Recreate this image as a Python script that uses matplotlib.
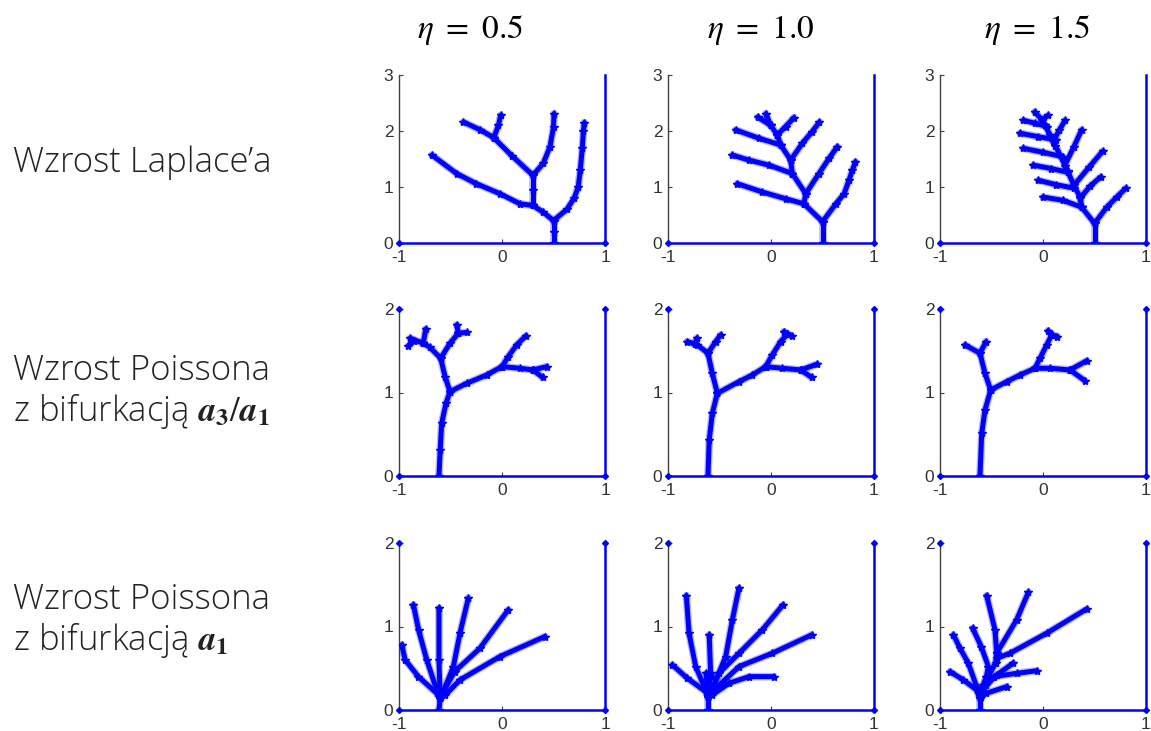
import matplotlib
matplotlib.use("Agg")
import matplotlib.pyplot as plt

plt.rcParams['mathtext.fontset'] = 'stix'

# ---- data -------------------------------------------------------------
eta_labels = ["0.5", "1.0", "1.5"]
row_labels = [
    "Wzrost Laplace\u2019a",
    "Wzrost Poissona\nz bifurkacją $\\mathbfit{a}_\\mathbf{3}/\\mathbfit{a}_\\mathbf{1}$",
    "Wzrost Poissona\nz bifurkacją $\\mathbfit{a}_\\mathbf{1}$",
]
row_ymax = [3, 2, 2]
x_ticks = [-1, 0, 1]

# Laplacian growth, eta = 0.5
laplace_05 = [
    [(0.5, 0.0), (0.5, 0.2), (0.5, 0.4)],
    [(0.5, 0.4), (0.63, 0.6), (0.70, 0.8), (0.74, 1.0), (0.76, 1.3), (0.78, 1.7), (0.79, 2.0), (0.80, 2.15)],
    [(0.5, 0.4), (0.40, 0.55), (0.30, 0.67)],
    [(0.30, 0.67), (0.175, 0.70), (-0.02, 0.88), (-0.25, 1.06), (-0.44, 1.24), (-0.68, 1.57)],
    [(0.30, 0.67), (0.30, 0.95), (0.30, 1.21)],
    [(0.30, 1.21), (0.40, 1.42), (0.466, 1.72), (0.50, 2.07), (0.505, 2.31)],
    [(0.30, 1.21), (0.10, 1.55), (-0.08, 1.88)],
    [(-0.08, 1.88), (-0.035, 2.10), (-0.013, 2.28)],
    [(-0.08, 1.88), (-0.21, 2.02), (-0.375, 2.16)],
]

# Laplacian growth, eta = 1.0
laplace_10 = [
    [(0.5, 0.0), (0.5, 0.38)],
    [(0.5, 0.38), (0.63, 0.70), (0.71, 0.88), (0.757, 1.12), (0.79, 1.30), (0.82, 1.45)],
    [(0.5, 0.38), (0.32, 0.70)],
    [(0.32, 0.70), (0.142, 0.79), (-0.084, 0.91), (-0.327, 1.06)],
    [(0.32, 0.70), (0.337, 0.88)],
    [(0.337, 0.88), (0.466, 1.24), (0.563, 1.51), (0.644, 1.72)],
    [(0.337, 0.88), (0.207, 1.24)],
    [(0.207, 1.24), (-0.019, 1.39), (-0.214, 1.48), (-0.375, 1.57)],
    [(0.207, 1.24), (0.191, 1.48)],
    [(0.191, 1.48), (0.304, 1.78), (0.40, 1.99), (0.47, 2.16)],
    [(0.191, 1.48), (0.094, 1.75)],
    [(0.094, 1.75), (-0.116, 1.87), (-0.343, 2.02)],
    [(0.094, 1.75), (0.061, 1.93)],
    [(0.061, 1.93), (0.142, 2.08), (0.223, 2.24)],
    [(0.061, 1.93), (-0.003, 2.10)],
    [(-0.003, 2.10), (-0.13, 2.25)],
    [(-0.003, 2.10), (-0.05, 2.31)],
]

# Laplacian growth, eta = 1.5
laplace_15 = [
    [(0.5, 0.0), (0.5, 0.35)],
    [(0.5, 0.35), (0.62, 0.64), (0.715, 0.82), (0.806, 0.98)],
    [(0.5, 0.35), (0.375, 0.64)],
    [(0.375, 0.64), (0.197, 0.76), (0.0, 0.82)],
    [(0.375, 0.64), (0.36, 0.82), (0.30, 1.03), (0.24, 1.28), (0.18, 1.52), (0.12, 1.74),
     (0.07, 1.92), (0.02, 2.10), (-0.01, 2.20)],
    [(0.36, 0.80), (0.46, 1.02), (0.56, 1.18)],
    [(0.30, 1.03), (0.45, 1.36), (0.58, 1.64)],
    [(0.21, 1.38), (0.30, 1.72), (0.375, 2.02)],
    [(0.10, 1.82), (0.16, 2.02), (0.214, 2.19)],
    [(0.30, 0.98), (0.13, 1.04), (-0.045, 1.12)],
    [(0.245, 1.26), (0.08, 1.33), (-0.094, 1.39)],
    [(0.19, 1.54), (0.0, 1.62), (-0.19, 1.69)],
    [(0.13, 1.84), (-0.05, 1.90), (-0.223, 1.96)],
    [(0.04, 2.08), (-0.08, 2.14), (-0.19, 2.19)],
    [(-0.01, 2.20), (-0.08, 2.34)],
    [(-0.01, 2.20), (0.05, 2.28)],
]

# Poisson growth with a3/a1 bifurcation, eta = 0.5
poisson31_05 = [
    [(-0.612, 0.0), (-0.60, 0.31), (-0.586, 0.63), (-0.544, 0.87), (-0.505, 1.01)],
    [(-0.505, 1.01), (-0.343, 1.11), (-0.149, 1.21), (0.0, 1.31)],
    [(0.0, 1.31), (0.061, 1.43), (0.142, 1.57), (0.233, 1.68)],
    [(0.0, 1.31), (0.175, 1.29), (0.30, 1.27)],
    [(0.30, 1.27), (0.434, 1.31)],
    [(0.30, 1.27), (0.395, 1.18)],
    [(-0.505, 1.01), (-0.553, 1.19), (-0.595, 1.41)],
    [(-0.595, 1.41), (-0.505, 1.59), (-0.424, 1.71)],
    [(-0.424, 1.71), (-0.44, 1.81)],
    [(-0.424, 1.71), (-0.343, 1.72)],
    [(-0.595, 1.41), (-0.70, 1.54), (-0.764, 1.59)],
    [(-0.764, 1.59), (-0.893, 1.65)],
    [(-0.764, 1.59), (-0.741, 1.76)],
    [(-0.85, 1.62), (-0.909, 1.56)],
]

# Poisson growth with a3/a1 bifurcation, eta = 1.0
poisson31_10 = [
    [(-0.612, 0.0), (-0.60, 0.43), (-0.57, 0.75), (-0.521, 0.99)],
    [(-0.521, 0.99), (-0.311, 1.13), (-0.181, 1.21), (-0.052, 1.31)],
    [(-0.052, 1.31), (0.013, 1.45), (0.094, 1.61), (0.159, 1.70)],
    [(0.159, 1.70), (0.126, 1.73)],
    [(0.159, 1.70), (0.20, 1.68)],
    [(-0.052, 1.31), (0.11, 1.29), (0.288, 1.27)],
    [(0.288, 1.27), (0.45, 1.34)],
    [(0.288, 1.27), (0.395, 1.18)],
    [(-0.521, 0.99), (-0.57, 1.23), (-0.612, 1.47)],
    [(-0.612, 1.47), (-0.537, 1.61), (-0.489, 1.69)],
    [(-0.612, 1.47), (-0.715, 1.57), (-0.812, 1.61)],
    [(-0.74, 1.58), (-0.72, 1.65)],
]

# Poisson growth with a3/a1 bifurcation, eta = 1.5
poisson31_15 = [
    [(-0.612, 0.0), (-0.595, 0.51), (-0.563, 0.79), (-0.508, 1.03)],
    [(-0.508, 1.03), (-0.353, 1.13), (-0.223, 1.21), (-0.078, 1.29)],
    [(-0.078, 1.29), (-0.029, 1.41), (0.036, 1.57), (0.084, 1.69)],
    [(0.084, 1.69), (0.05, 1.74)],
    [(0.084, 1.69), (0.14, 1.67)],
    [(-0.078, 1.29), (0.068, 1.29), (0.262, 1.27)],
    [(0.262, 1.27), (0.424, 1.38)],
    [(0.262, 1.27), (0.408, 1.14)],
    [(-0.508, 1.03), (-0.563, 1.23), (-0.612, 1.47)],
    [(-0.612, 1.47), (-0.553, 1.61)],
    [(-0.612, 1.47), (-0.757, 1.57)],
]

# Poisson growth with a1 bifurcation, eta = 0.5
poisson1_05 = [
    [(-0.612, 0.0), (-0.60, 0.14)],
    [(-0.60, 0.14), (-0.634, 0.20), (-0.812, 0.40), (-0.94, 0.60), (-0.974, 0.78)],
    [(-0.60, 0.14), (-0.634, 0.24), (-0.731, 0.60), (-0.81, 0.96), (-0.86, 1.26)],
    [(-0.60, 0.14), (-0.612, 0.60), (-0.612, 1.22)],
    [(-0.60, 0.14), (-0.57, 0.22), (-0.472, 0.52), (-0.408, 0.92), (-0.327, 1.34)],
    [(-0.57, 0.22), (-0.46, 0.46), (-0.214, 0.74), (0.061, 1.20)],
    [(-0.60, 0.14), (-0.55, 0.18), (-0.408, 0.36), (-0.02, 0.64), (0.417, 0.88)],
]

# Poisson growth with a1 bifurcation, eta = 1.0
poisson1_10 = [
    [(-0.612, 0.0), (-0.612, 0.16)],
    [(-0.612, 0.16), (-0.634, 0.22), (-0.812, 0.38), (-0.958, 0.54)],
    [(-0.612, 0.16), (-0.634, 0.24), (-0.731, 0.52), (-0.796, 0.92), (-0.822, 1.37)],
    [(-0.612, 0.16), (-0.60, 0.30), (-0.586, 0.44), (-0.60, 0.90)],
    [(-0.62, 0.30), (-0.63, 0.44), (-0.57, 0.40)],
    [(-0.612, 0.16), (-0.56, 0.28), (-0.44, 0.64), (-0.375, 1.08), (-0.311, 1.46)],
    [(-0.58, 0.22), (-0.505, 0.44), (-0.31, 0.68), (-0.084, 0.96), (0.117, 1.26)],
    [(-0.58, 0.20), (-0.553, 0.24), (-0.31, 0.52), (0.013, 0.68), (0.395, 0.90)],
    [(-0.57, 0.18), (-0.408, 0.32), (-0.214, 0.40), (0.029, 0.40)],
]

# Poisson growth with a1 bifurcation, eta = 1.5
poisson1_15 = [
    [(-0.612, 0.0), (-0.612, 0.14)],
    [(-0.612, 0.14), (-0.644, 0.24), (-0.773, 0.36), (-0.903, 0.46)],
    [(-0.612, 0.14), (-0.644, 0.28), (-0.725, 0.56), (-0.806, 0.74), (-0.87, 0.90)],
    [(-0.60, 0.22), (-0.55, 0.40), (-0.53, 0.52), (-0.60, 0.76), (-0.683, 0.98)],
    [(-0.58, 0.30), (-0.46, 0.56), (-0.45, 0.68)],
    [(-0.45, 0.68), (-0.466, 0.96), (-0.547, 1.37)],
    [(-0.45, 0.68), (-0.256, 1.08), (-0.142, 1.41)],
    [(-0.45, 0.62), (-0.32, 0.68), (0.036, 0.92), (0.424, 1.21)],
    [(-0.58, 0.26), (-0.45, 0.42), (-0.29, 0.56)],
    [(-0.55, 0.30), (-0.48, 0.40), (-0.25, 0.44), (-0.061, 0.47)],
    [(-0.60, 0.16), (-0.55, 0.20), (-0.353, 0.28)],
]

panels = [
    [laplace_05, laplace_10, laplace_15],
    [poisson31_05, poisson31_10, poisson31_15],
    [poisson1_05, poisson1_10, poisson1_15],
]

# ---- layout (pixels of a 1151 x 731 canvas) ----------------------------
W, H = 1151, 731
col_left = [399, 668, 940]
col_width = 206
row_top = [75, 309, 543]
row_bottom = [243, 476, 710]
title_x = [470, 761, 1037]
title_y = 30
label_x = 13
label_y = [163, 392, 621]

BLUE = '#0000ff'
AXIS_GRAY = '#404040'

fig = plt.figure(figsize=(W / 100, H / 100), dpi=100)

for r in range(3):
    ymax = row_ymax[r]
    for c in range(3):
        ax = fig.add_axes([col_left[c] / W, 1 - row_bottom[r] / H,
                           col_width / W, (row_bottom[r] - row_top[r]) / H])
        ax.set_xlim(-1, 1)
        ax.set_ylim(0, ymax)
        for side in ('top', 'right', 'bottom'):
            ax.spines[side].set_visible(False)
        ax.spines['left'].set_color(AXIS_GRAY)
        ax.spines['left'].set_linewidth(1.0)
        ax.set_xticks(x_ticks)
        ax.set_xticklabels([str(t) for t in x_ticks])
        ax.set_yticks(list(range(ymax + 1)))
        ax.tick_params(direction='in', length=3, width=0.8, color=AXIS_GRAY,
                       labelsize=12.5, labelcolor='#333333')
        ax.tick_params(axis='x', pad=5)
        ax.tick_params(axis='y', pad=4)
        for lbl in ax.get_xticklabels() + ax.get_yticklabels():
            lbl.set_fontfamily('Liberation Sans')

        # domain boundary
        ax.plot([-1, 1, 1], [0, 0, ymax], color=BLUE, lw=1.8,
                clip_on=False, zorder=4)
        corners_x = [-1, 1] if r == 0 else [-1, 1, 1, -1]
        corners_y = [0, 0] if r == 0 else [0, 0, ymax, ymax]
        ax.plot(corners_x, corners_y, linestyle='none', marker='D', ms=3,
                color=BLUE, clip_on=False, zorder=5)

        # growth paths
        for branch in panels[r][c]:
            xs = [p[0] for p in branch]
            ys = [p[1] for p in branch]
            ax.plot(xs, ys, color='#6060ff', lw=5.5, alpha=0.45,
                    solid_capstyle='round', solid_joinstyle='round', zorder=2)
            ax.plot(xs, ys, color=BLUE, lw=3.6, marker='*', ms=6,
                    solid_capstyle='round', solid_joinstyle='round', zorder=3)

for c in range(3):
    fig.text(title_x[c] / W, 1 - title_y / H, "$\\eta\\ =\\ " + eta_labels[c] + "$",
             ha='center', va='center', fontsize=24, color='black')

for r in range(3):
    fig.text(label_x / W, 1 - label_y[r] / H, row_labels[r], ha='left', va='center',
             fontsize=25, color='#222222', family='Open Sans', fontweight='light',
             linespacing=1.15)

fig.savefig('out.png', dpi=100)
